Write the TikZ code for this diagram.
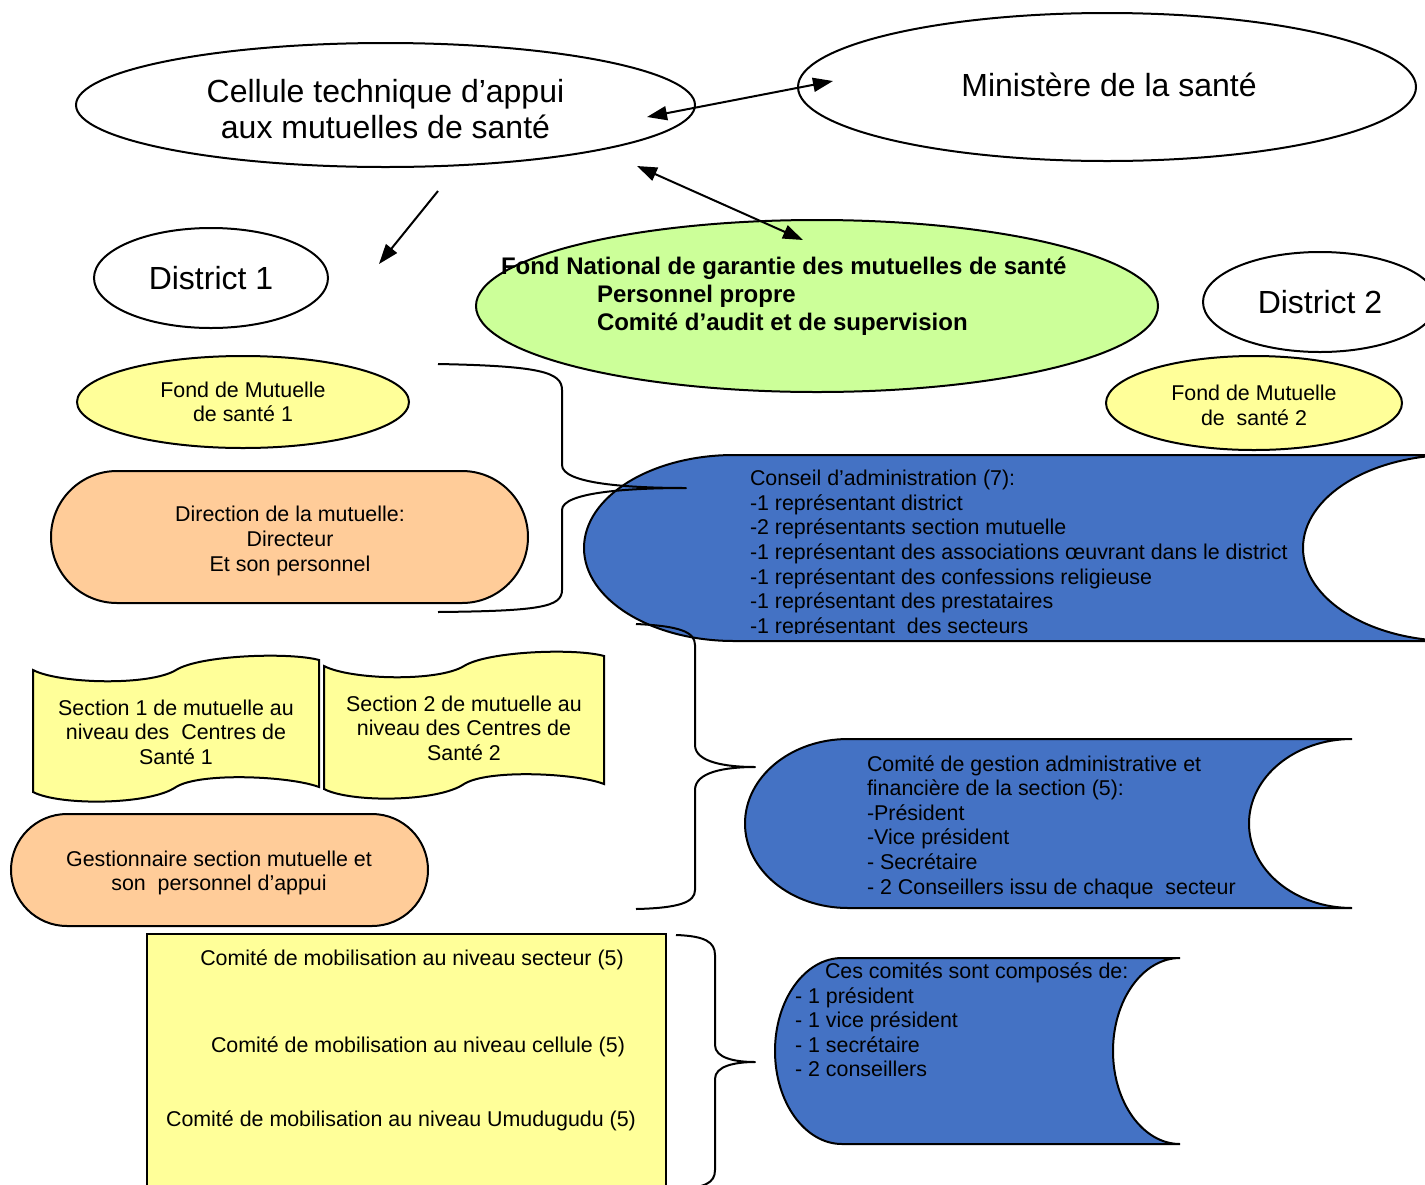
\documentclass[tikz,border=0pt]{standalone}
\usepackage{fontspec}
\setmainfont{Liberation Sans}
\usetikzlibrary{shapes.geometric,arrows.meta}
\definecolor{cgreen}{HTML}{CCFF99}
\definecolor{cyellow}{HTML}{FFFF99}
\definecolor{cpeach}{HTML}{FFCC99}
\definecolor{cblue}{HTML}{4472C4}
\newcommand\txtL{\fontsize{16pt}{18.4pt}\selectfont}
\newcommand\txtB{\fontsize{12pt}{14pt}\selectfont\bfseries}
\newcommand\txtS{\fontsize{10.7pt}{12.3pt}\selectfont}
\begin{document}
\begin{tikzpicture}[x=0.5pt,y=-0.5pt, line width=1pt,
  oval/.style={draw, ellipse, inner sep=0pt, align=center},
  bigtext/.style={font=\txtL},
  smalltext/.style={font=\txtS},
  plain/.style={inner sep=0pt, align=center},
  stadium/.style={draw, fill=cpeach},
  wave/.style={draw, fill=cyellow},
  scroll/.style={draw, fill=cblue},
  brace/.style={draw, line join=round},
  twoway/.style={{Triangle[length=10pt,width=7pt]}-{Triangle[length=10pt,width=7pt]}},
  oneway/.style={-{Triangle[length=10pt,width=7pt]}},
]
\clip (0,0) rectangle (1425,1184);
\fill[white] (0,0) rectangle (1425,1184);

% top ellipses
\node[oval, minimum width=309.5pt, minimum height=62pt] (cellule) at (385.5,105) {};
\node[plain, bigtext] (celluletext) at (385.5,109) {Cellule technique d’appui\\aux mutuelles de santé};
\node[oval, minimum width=309pt, minimum height=74pt] (ministere) at (1107,87) {};
\node[plain, bigtext] (ministeretext) at (1109,85) {Ministère de la santé};
\node[oval, bigtext, minimum width=117pt, minimum height=50pt] (district1) at (211,278) {District 1};
\node[oval, bigtext, minimum width=117pt, minimum height=50pt] (district2) at (1320,302) {District 2};

% Fond national
\node[oval, fill=cgreen, minimum width=341pt, minimum height=86pt] (fng) at (817,306) {};
\node[font=\txtB, align=left, anchor=west, inner sep=0pt] (fngtext) at (500,296)
  {Fond National de garantie des mutuelles de santé\\
   \hspace*{48pt}Personnel propre\\
   \hspace*{48pt}Comité d’audit et de supervision};

% fonds de mutuelle
\node[oval, fill=cyellow, smalltext, minimum width=166pt, minimum height=46pt] (fond1) at (243,402)
  {Fond de Mutuelle\\de santé 1};
\node[oval, fill=cyellow, minimum width=148pt, minimum height=47pt] (fond2) at (1254,403) {};
\node[plain, smalltext] (fond2text) at (1254,405.5) {Fond de Mutuelle\\de~~santé 2};

% direction
\path[stadium, rounded corners=33pt] (51,471) rectangle (528,603);
\node[plain, smalltext] (direction) at (290,541) {Direction de la mutuelle:\\Directeur\\Et son personnel};

% sections
\path[wave] (33,670) .. controls (60,684) and (150,686) .. (176,670)
  .. controls (200,655) and (290,652) .. (319,660) -- (319,787)
  .. controls (290,776) and (200,772) .. (176,787)
  .. controls (150,805) and (60,806) .. (33,792) -- cycle;
\node[plain, smalltext] (section1) at (176,732) {Section 1 de mutuelle au\\niveau des~ Centres de\\Santé 1};
\path[wave] (324,666) .. controls (351,680) and (438,682) .. (464,666)
  .. controls (488,651) and (576,648) .. (604,656) -- (604,784)
  .. controls (576,773) and (488,769) .. (464,784)
  .. controls (438,802) and (351,803) .. (324,789) -- cycle;
\node[plain, smalltext] (section2) at (464,728) {Section 2 de mutuelle au\\niveau des Centres de\\Santé 2};

% gestionnaire
\path[stadium, rounded corners=28pt] (11,814) rectangle (428,926);
\node[plain, smalltext] (gestion) at (219,873) {Gestionnaire section mutuelle et\\son~ personnel d’appui};

% comites de mobilisation
\path[wave] (147,934) rectangle (666,1200);
\node[plain, smalltext] (mob1) at (412,960) {Comité de mobilisation au niveau secteur (5)};
\node[plain, smalltext] (mob2) at (418,1047) {Comité de mobilisation au niveau cellule (5)};
\node[plain, smalltext] (mob3) at (401,1121) {Comité de mobilisation au niveau Umudugudu (5)};

% blue shape 1
\path[scroll] (734,455) -- (1453,455) .. controls (1370.2,455) and (1303,496.6) .. (1303,548)
  .. controls (1303,599.4) and (1370.2,641) .. (1453,641) -- (734,641)
  .. controls (651.2,641) and (584,599.4) .. (584,548) .. controls (584,496.6) and (651.2,455) .. (734,455) -- cycle;
\begin{scope}
\clip (0,0) rectangle (1425,633);
\node[smalltext, align=left, anchor=west, inner sep=0pt] (conseil) at (749,554)
  {Conseil d’administration (7):\\
   -1 représentant district\\
   -2 représentants section mutuelle\\
   -1 représentant des associations œuvrant dans le district\\
   -1 représentant des confessions religieuse\\
   -1 représentant des prestataires\\
   -1 représentant~ des secteurs};
\end{scope}

% blue shape 2
\path[scroll] (848,739) -- (1352,739) .. controls (1295.1,739) and (1249,776.8) .. (1249,823.5)
  .. controls (1249,870.2) and (1295.1,908) .. (1352,908) -- (848,908)
  .. controls (791.1,908) and (745,870.2) .. (745,823.5) .. controls (745,776.8) and (791.1,739) .. (848,739) -- cycle;
\node[smalltext, align=left, anchor=west, inner sep=0pt] (comitegestion) at (866,827)
  {Comité de gestion administrative et\\
   financière de la section (5):\\
   -Président\\
   -Vice président\\
   - Secrétaire\\
   - 2 Conseillers issu de chaque~ secteur};

% blue shape 3
\path[scroll] (842,958) -- (1180,958) .. controls (1143,958) and (1113,999.6) .. (1113,1051)
  .. controls (1113,1102.4) and (1143,1144) .. (1180,1144) -- (842,1144)
  .. controls (805,1144) and (775,1102.4) .. (775,1051) .. controls (775,999.6) and (805,958) .. (842,958) -- cycle;
\node[smalltext, align=left, anchor=west, inner sep=0pt] (composition) at (794,1020)
  {\hspace*{15pt}Ces comités sont composés de:\\
   - 1 président\\
   - 1 vice président\\
   - 1 secrétaire\\
   - 2 conseillers};

% braces
\path[brace] (438,364) .. controls (540,366) and (562,372) .. (562,390) -- (562,465)
  .. controls (562,484) and (630,488) .. (686,488)
  .. controls (630,488) and (562,492) .. (562,510) -- (562,590)
  .. controls (562,607) and (540,611) .. (438,612);
\path[brace] (636,624) .. controls (680,626) and (695,632) .. (695,645) -- (695,745)
  .. controls (695,762) and (725,767) .. (755,767)
  .. controls (725,767) and (695,772) .. (695,790) -- (695,890)
  .. controls (695,902) and (680,908) .. (636,909);
\path[brace] (676,935) .. controls (705,936) and (715,942) .. (715,955) -- (715,1045)
  .. controls (715,1058) and (735,1062) .. (755,1062)
  .. controls (735,1062) and (715,1066) .. (715,1079) -- (715,1170)
  .. controls (715,1183) and (705,1188) .. (676,1189);

% arrows
\coordinate (a1s) at (647,117);
\coordinate (a1e) at (833,81);
\coordinate (a2s) at (637,166);
\coordinate (a2e) at (803,240);
\coordinate (a3s) at (438,191);
\coordinate (a3e) at (379,264);
\draw[twoway] (a1s) -- (a1e);
\draw[twoway] (a2s) -- (a2e);
\draw[oneway] (a3s) -- (a3e);
\end{tikzpicture}
\end{document}
